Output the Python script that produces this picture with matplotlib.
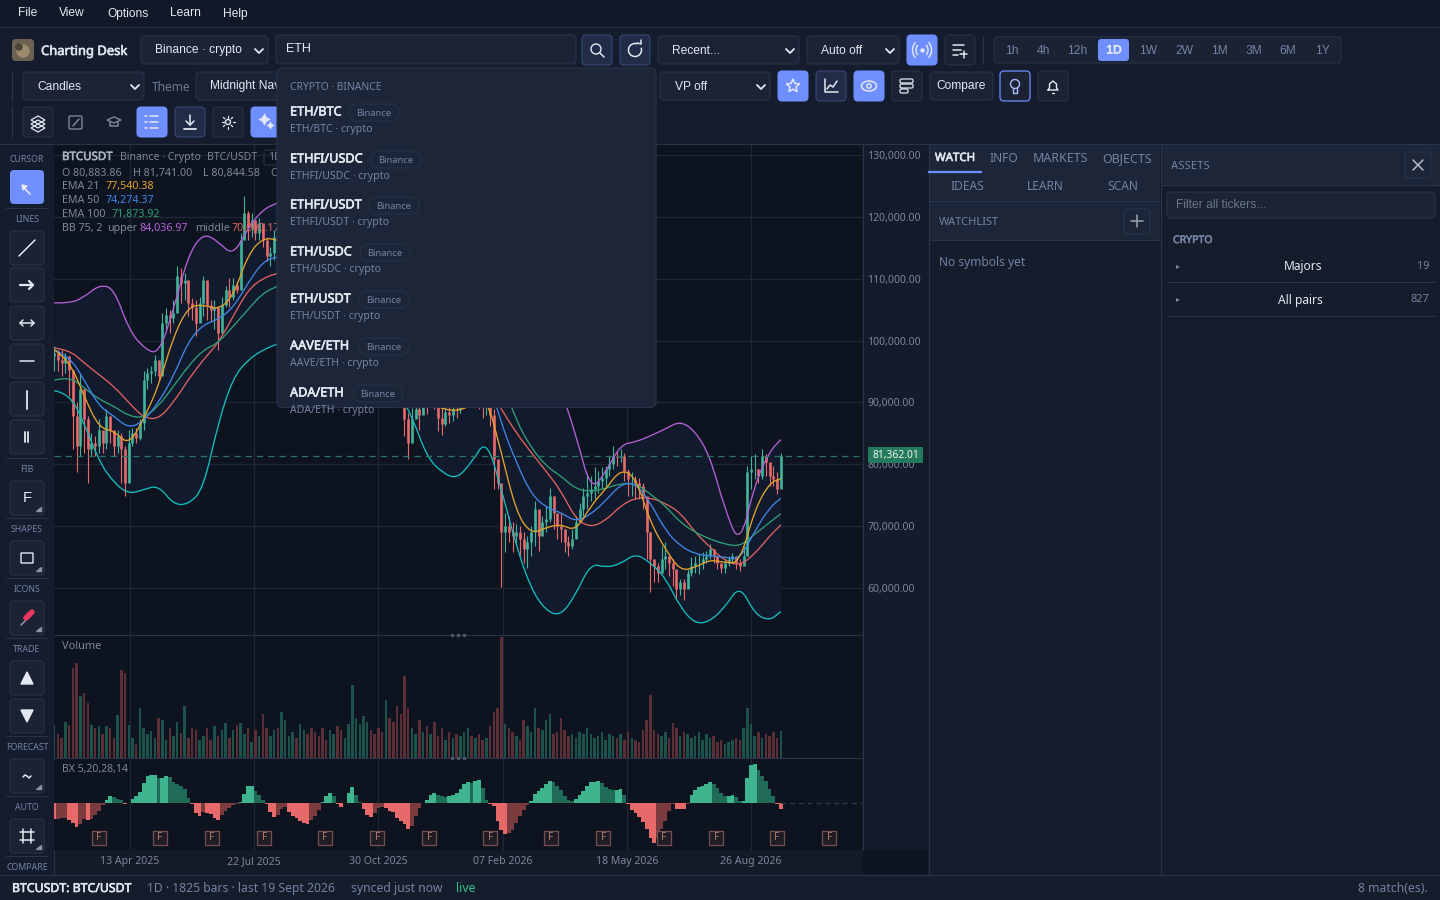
import matplotlib
matplotlib.use("Agg")
import matplotlib.dates as mdates
import matplotlib.patheffects as pe
import matplotlib.pyplot as plt
import numpy as np
import pandas as pd
from matplotlib.patches import Arc, Circle, FancyBboxPatch, PathPatch, Polygon
from matplotlib.path import Path

W, H = 1440, 900

# three-day bars, prices in thousands
bar_dates = pd.date_range("2025-02-11", periods=196, freq="3D")
close_k = [
    98, 96.9, 96.4, 97.5, 95.3, 87.8, 83, 92.1, 87.3, 82.4, 83.5, 83, 85.6, 83.5, 87.8, 85.6, 83, 84.6, 82.4, 77,
    83.5, 85.1, 84.3, 86.7, 93.7, 94.8, 95.1, 96.9, 94.2, 102.8, 104.2, 103.7, 104.5, 110.4, 109.3, 109.8, 106.1, 105.5, 102.8, 106.1,
    109.8, 105.8, 105, 105.5, 101.2, 105.8, 108.2, 107.1, 109, 108.2, 116.3, 120.6, 118.4, 119.5, 117.4, 119, 116.3, 113.6, 114.1, 116.8,
    111.5, 113, 116, 118, 119, 117, 118.5, 120, 118, 116, 114, 113, 111, 109.5, 110.5, 112, 110, 108.5, 110, 113,
    115, 117, 121, 123, 124, 120, 112, 110, 108, 110, 107, 104, 102, 95,
    87.3, 83.5, 87.3, 89, 88, 91, 90, 92, 91, 87.5, 86.5, 88.5, 88, 89, 88.8, 90.5, 92, 93, 92, 94, 91, 89.5, 92, 88, 80.8, 77, 69,
    70, 69, 68.4, 69, 67.9, 66.3, 67.4, 69, 72.7, 68.4, 70.6, 71.1, 74.9, 72.2, 70, 69.5, 67.4, 66.8, 67.9, 70.6,
    72.7, 74.9, 75.4, 76, 76.5, 77.3, 77.8, 79.2, 80, 81.3, 81.1, 81.3, 78.9, 77.6,
    77.6, 77, 76.5, 74.9, 69, 64.7, 63.6, 62.5, 64.7, 65.2, 64.1, 63, 59.8, 60.9, 59.8, 62.5, 63.6, 64.1, 64.1, 64.7,
    65.2, 66.3, 65.2, 64.1, 63.3, 64.1, 64.7, 65.2, 64.1, 63.6, 65.2, 78.7, 79.2, 79.2, 78.1, 81.3, 80.3, 78.1, 77.6, 76, 81.362,
]
high_k = [
    99.1, 98.5, 98.5, 98, 97.5, 93.2, 90, 94.8, 92.1, 87.8, 85.1, 84.6, 87.3, 85.1, 88.9, 87.8, 85.6, 85.6, 85.1, 83,
    85.6, 85.9, 85.9, 87.3, 95.1, 95.6, 95.9, 97.7, 96.9, 104.5, 105.3, 105, 106.6, 112, 111.7, 110.9, 109.3, 106.9, 106.6, 107.1,
    110.5, 106.6, 106.6, 106.6, 105, 107.1, 108.8, 110.1, 110.1, 109.6, 117.4, 123.3, 120.9, 120.6, 119.5, 119.8, 118.4, 116.8, 115.2, 117.9,
    113, 115, 118, 120, 121, 119, 120, 122, 120, 118, 116, 115, 113, 111, 112, 114, 112, 110, 112, 115,
    117, 119, 123, 125, 126, 124, 116, 112, 110, 112, 110, 108, 104, 102,
    94, 88.3, 89.1, 91, 91, 93, 92, 94, 93, 91, 90, 91, 90, 91, 91, 92, 94, 95, 94, 96, 95, 92, 94, 92, 88.9, 79.5, 76.5,
    72.2, 71.7, 70.6, 70.3, 70, 69, 68.4, 70, 74.1, 70, 71.7, 73.3, 76.2, 74.9, 71.1, 72.2, 69.5, 68.4, 69.5, 71.7,
    73.8, 76.2, 78.4, 78.1, 79.5, 78.9, 79.5, 79.7, 81.3, 83, 82.1, 82.5, 81.9, 79.2,
    78.7, 78.1, 77.8, 77, 74.4, 69, 64.7, 64.1, 66.8, 67.4, 65, 64.7, 62.5, 61.4, 61.4, 63, 65, 65.2, 65.5, 65.8,
    66, 67.1, 66.3, 64.7, 64.1, 64.7, 65.2, 65.6, 64.7, 64.7, 66.8, 79.7, 81.3, 81.6, 79.2, 82.4, 81.6, 80, 79.7, 78.7, 81.9,
]
low_k = [
    95.1, 95.1, 94.2, 94.8, 91, 82.4, 78.7, 81.3, 81.9, 77, 81.3, 81.3, 81.9, 81.9, 82.4, 83.5, 81.3, 81.9, 77, 74.9,
    77.6, 83, 83.5, 84, 85.6, 92.1, 93.2, 94.2, 93.4, 96.9, 101.8, 101.2, 102.8, 106.1, 106.1, 106.6, 103.9, 103.4, 100.7, 103.4,
    103.9, 103.4, 103.1, 101.8, 98.5, 104.5, 105.5, 105.5, 106.6, 107.7, 108.8, 116.3, 116.3, 116.8, 116.3, 116.3, 115.2, 112.8, 112, 113.1,
    109, 111, 114, 116, 117, 115, 117, 118, 116, 114, 112, 111, 109, 108, 108, 110, 108, 106, 108, 111,
    113, 115, 119, 121, 122, 118, 108, 107, 105, 107, 104, 100, 95, 91,
    84.6, 80.8, 85.1, 87.5, 85.6, 89, 88.1, 90, 89, 85.4, 84.7, 86.2, 86.7, 87, 87.5, 88.3, 90, 91, 90, 91.5, 88.9, 87.5, 88, 86.2, 76, 76, 60.2,
    65.8, 67.4, 65.8, 66.8, 65.2, 64.1, 63.3, 65.2, 66.8, 66, 69, 69, 70.6, 69.5, 67.9, 67.4, 65.8, 65.2, 66.3, 68.4,
    70.6, 71.7, 72.7, 74.1, 74.4, 75.4, 76, 76.5, 78.1, 79.2, 79.7, 80.3, 77.3, 74.9,
    74.9, 74.4, 74.4, 72.7, 64.7, 59.4, 60.9, 60.9, 62.5, 63, 62, 60.4, 58.2, 58.8, 58.1, 60.4, 62, 62.5, 62.3, 63,
    64.1, 64.7, 64.1, 63, 62.5, 62.5, 63.6, 64.1, 63, 62.8, 64.1, 65.2, 76, 77.6, 77, 77.6, 78.1, 76.5, 76.5, 75.2, 76.2,
]
volume = [
    33, 24, 20, 36, 33, 90, 95, 62, 65, 55,
    33, 30, 32, 24, 32, 30, 20, 43, 88, 85,
    33, 20, 14, 50, 30, 24, 27, 20, 40, 38,
    18, 30, 22, 36, 25, 52, 20, 30, 28, 18,
    22, 30, 18, 32, 22, 28, 35, 20, 28, 33,
    35, 24, 30, 16, 28, 22, 44, 30, 22, 28,
    30, 46, 38, 22, 26, 20, 34, 28, 24, 30,
    26, 22, 30, 18, 28, 24, 32, 28, 20, 34,
    73, 40, 34, 42, 36, 28, 24, 30, 26, 58,
    40, 36, 52, 44, 82, 50, 30, 24, 38, 26,
    32, 24, 36, 22, 30, 18, 26, 20, 24, 22,
    26, 30, 22, 20, 24, 18, 20, 32, 46, 50,
    121, 34, 30, 26, 22, 18, 38, 32, 26, 50,
    30, 28, 38, 44, 24, 26, 40, 28, 22, 24,
    20, 26, 24, 30, 24, 20, 22, 26, 18, 24,
    22, 20, 24, 18, 26, 20, 18, 16, 28, 38,
    63, 28, 24, 22, 26, 20, 35, 30, 22, 26,
    24, 20, 22, 26, 18, 24, 20, 22, 16, 18,
    14, 16, 18, 20, 18, 30, 50, 34, 22, 26,
    20, 24, 22, 26, 20, 27,
]
bx_values = [
    -16, -15.5, -15, -14.5, -17, -20, -24, -21, -16, -17, -16, -12, -8, -2, 3, 7, 6, 4, 3, -1,
    0.5, 4, 7, 11, 20, 27, 28, 28, 25, 25, 27, 26, 21, 19, 17, 14, 5, -1, -10, -13,
    -9, -10, -11, -15, -17, -12, -8, -5, -2, -0.5, 1.5, 9, 17, 17, 12, 8, 3, -1, -9, -14,
    -12, -6, -4, -9, -13, -15, -18, -20, -21, -17, -13, -7, 1, 7, 10, 7, -1, -4, 0, 10,
    16, 8, 1, -6, -12, -14, -10, -5, -4, -5, -8, -9, -15, -18, -21, -26, -23, -13, -5, 0,
    3, 8, 10, 8, 7, 6, 7, 8, 10, 14, 19, 21, 20, 22, 23, 15, 3, -0.5, -3, -18,
    -27, -31, -30, -27, -20, -13, -7, -2, 2, 9, 12, 15, 19, 22, 21, 17, 13, 7, 3, 2,
    4, 8, 12, 17, 21, 21.5, 22, 20, 16, 14, 13, 13.5, 14, 8, -0.5, -7, -10, -14, -19, -26,
    -35, -40, -35, -26, -18, -8, -1, -6, -6, -6, -0.5, 8, 13, 16, 17, 19, 21, 19, 15, 10,
    7, 7.5, 8, 6, 2, 2, 25, 38, 39, 33, 27, 22, 14, 7, -1, -6,
]

# indicators sampled every fourth bar plus the last one
ema21_k = [
    98.5, 96.9, 91, 85.9, 85.4, 83.1, 87.3, 92.6, 100.7, 105.5, 105.8, 105, 107.1, 113.9, 116.6, 116.3,
    115, 115, 116, 117, 116, 114, 108, 99, 92, 90, 89, 88.6, 89.5, 91,
    81.9, 72.2, 68.7, 69.8, 70.3, 69.2, 73.3, 76, 79.2, 78, 70.6, 66.3, 62.8, 63.3, 64.6, 64.1, 64.1, 72.7, 77, 77.7,
]
ema50_k = [
    98.5, 97.5, 93.7, 89.4, 87.8, 85.8, 87, 90, 94.2, 99.9, 102.6, 103.4, 105.3, 109.3, 112.8, 113.6,
    114, 114.5, 115, 115, 114.5, 114, 113, 111, 108, 106, 103, 100.5, 98, 95,
    86.5, 80.3, 75.2, 73, 72.2, 70.7, 71.9, 74.1, 76.8, 77, 73.8, 69.3, 66.8, 65.5, 65.2, 65, 64.6, 69.2, 73, 74.5,
]
ema100_k = [
    93.6, 94.2, 92.4, 90.5, 89.4, 87.8, 87.5, 89.4, 92.6, 95.9, 98.5, 99.6, 102.3, 105, 107.7, 108.8,
    110, 111, 111.5, 112, 112, 112, 112, 111.5, 110.5, 109, 108, 106.5, 105, 101,
    94, 87, 82.7, 79.7, 78.1, 76, 75.6, 76.1, 76.9, 76.9, 75.2, 73.3, 70.6, 69, 67.9, 67.1, 66.7, 68.7, 70.6, 72,
]
bb_mid_k = [
    98.8, 98.5, 96.4, 94.5, 92.6, 90, 87.5, 87.3, 90, 93.7, 96.9, 99.6, 103.9, 108.2, 110.1, 110.9,
    111.5, 112.5, 113, 113.5, 113.5, 113, 112.5, 112, 110.5, 108, 105, 101, 97, 93,
    88.9, 85.1, 81.9, 78.9, 75.7, 71.1, 69.8, 70.9, 73.3, 74.6, 74.6, 73.7, 72.2, 69, 66.6, 64.4, 63.6, 65.5, 68.4, 70.2,
]
bb_upper_k = [
    106.1, 106, 107, 109, 108.5, 101.8, 98.8, 97.7, 105, 113.9, 117.4, 116, 113.7, 118.2, 121.2, 122.3,
    123, 124, 125, 125, 125, 126, 127, 127, 126, 125, 125, 125, 124, 122,
    118, 112, 105, 98, 92, 84.8, 75.7, 78.7, 83.2, 83.6, 84.6, 85.7, 87, 85.4, 81.3, 72.7, 66.8, 76.8, 82.1, 84,
]
bb_lower_k = [
    91.9, 91.5, 86.7, 80.5, 77, 75.2, 75.9, 76.6, 73.5, 73.5, 76, 86.7, 94, 96.9, 98.5, 99.5,
    100, 101, 103, 104, 103, 100, 96, 92, 87.8,
    81.2, 78.7, 77.6, 80.3, 84.1, 76, 66.8, 59.8, 56.3, 55.5, 59, 64, 63.3, 63.9, 65.6,
    64.1, 61.7, 56.9, 54.2, 54.6, 56.9, 60.5, 55.8, 54.7, 56.2,
]

price_ticks = [130000, 120000, 110000, 100000, 90000, 80000, 70000, 60000]
date_ticks = ["2025-04-13", "2025-07-22", "2025-10-30", "2026-02-07", "2026-05-18", "2026-08-26"]
future_dates = [
    "2025-03-19", "2025-05-07", "2025-06-18", "2025-07-30", "2025-09-17", "2025-10-29", "2025-12-10",
    "2026-01-28", "2026-03-18", "2026-04-29", "2026-06-17", "2026-07-29", "2026-09-16", "2026-10-28",
]
last_price = 81362.01

menu_items = [("File", 18), ("View", 59), ("Options", 107), ("Learn", 170), ("Help", 223)]
timeframes = [("1h", 1012), ("4h", 1043), ("12h", 1077), ("1D", 1114), ("1W", 1148), ("2W", 1184),
              ("1M", 1219), ("3M", 1254), ("6M", 1288), ("1Y", 1322)]
search_results = [
    ("ETH/BTC", 112, 374), ("ETHFI/USDC", 159, 396), ("ETHFI/USDT", 205, 394), ("ETH/USDC", 252, 385),
    ("ETH/USDT", 299, 384), ("AAVE/ETH", 346, 384), ("ADA/ETH", 393, 378),
]
tool_sections = [("CURSOR", 159), ("LINES", 219), ("FIB", 469), ("SHAPES", 529), ("ICONS", 589),
                 ("TRADE", 649), ("FORECAST", 747), ("AUTO", 807), ("COMPARE", 867)]

BG_MENU = "#111827"
BG_BAR = "#151c2d"
BG_CHART = "#0e141f"
BG_HEAD = "#1c2638"
BG_BAND = "#121b2e"
EDGE = "#29344b"
ACCENT = "#6f8fff"
GRID = "#1e2638"
MUTED = "#7c8798"
SLATE = "#7283a3"
LIGHT = "#e4e8f0"
UP = "#41b49a"
DOWN = "#e86a6a"
SANS = "Noto Sans"
UI = "Liberation Sans"
PX_PER_K = 6.186

plt.rcParams["font.family"] = [SANS, "DejaVu Sans"]
fig = plt.figure(figsize=(14.4, 9), dpi=100, facecolor=BG_BAR)


def px_axes(x0, y0, x1, y1, zorder=1):
    ax = fig.add_axes([x0 / W, 1 - y1 / H, (x1 - x0) / W, (y1 - y0) / H], zorder=zorder)
    return ax


under = px_axes(0, 0, W, H, zorder=0)
top = px_axes(0, 0, W, H, zorder=10)
for a in (under, top):
    a.set_xlim(0, W)
    a.set_ylim(H, 0)
    a.axis("off")
top.patch.set_alpha(0)


def box(x0, y0, x1, y1, face, edge="none", r=4, ax=top, z=1, lw=0.75):
    patch = FancyBboxPatch((x0, y0), x1 - x0, y1 - y0, boxstyle=f"round,pad=0,rounding_size={r}",
                           facecolor=face, edgecolor=edge, linewidth=lw, zorder=z)
    ax.add_patch(patch)
    return patch


def txt(x, y, s, px=12, color=LIGHT, family=SANS, bold=False, ha="left", z=3):
    t = top.text(x, y + 1.5, s, fontsize=px * 0.72, color=color, family=[family, "DejaVu Sans"],
                 ha=ha, va="center", zorder=z)
    if bold:
        # the installed Noto Sans has one weight, so thicken the outline
        t.set_path_effects([pe.withStroke(linewidth=0.45, foreground=color)])
    return t


def stroke(xs, ys, color=LIGHT, lw=1.1, z=3):
    top.plot(xs, ys, color=color, linewidth=lw, solid_capstyle="round", zorder=z)


def smooth_line(ax, xs, ys, color, lw=0.95, z=3):
    # quadratic path with the read values as control points
    pts = np.c_[xs, ys]
    verts = [pts[0]]
    codes = [Path.MOVETO]
    for i in range(1, len(pts) - 1):
        verts += [pts[i], (pts[i] + pts[i + 1]) / 2]
        codes += [Path.CURVE3, Path.CURVE3]
    verts.append(pts[-1])
    codes.append(Path.LINETO)
    ax.add_patch(PathPatch(Path(verts, codes), fill=False, edgecolor=color, linewidth=lw, zorder=z))


def chevron(x, y):
    stroke([x - 4, x, x + 4], [y - 2, y + 2, y - 2], color=LIGHT, lw=1.3)


def select(x0, x1, y0, y1, label, text_x=None):
    box(x0, y0, x1, y1, "#1b2436", EDGE)
    txt(text_x or x0 + 14, (y0 + y1) / 2 - 1, label, px=12, family=UI)
    chevron(x1 - 9, (y0 + y1) / 2 + 1)


def button(x0, y0, kind="dark", size=30):
    styles = {"accent": (ACCENT, ACCENT), "outline": ("#212c49", "#3a4a78"), "dark": ("#1a2233", EDGE)}
    face, edge = styles[kind]
    box(x0, y0, x0 + size, y0 + size, face, edge)


# panel backgrounds
for x0, y0, x1, y1, face in [
    (0, 0, W, 27, BG_MENU), (0, 27, W, 144, BG_BAR), (0, 144, 54, 875, BG_BAR), (863, 144, 928, 850, "#141b2a"),
    (54, 850, 862, 875, "#131a28"), (862, 850, 928, 875, "#0f1520"), (929, 145, 1160, 875, "#151c2c"),
    (929, 145, 1160, 240, BG_HEAD), (1161, 145, W, 875, "#151c2c"), (1161, 145, W, 185, BG_HEAD), (0, 875, W, H, "#151c2b"),
]:
    under.fill([x0, x1, x1, x0], [y0, y0, y1, y1], color=face, linewidth=0, zorder=1)
for x0, y0, x1, y1 in [
    (0, 27, W, 27), (0, 144, W, 144), (0, 874.5, W, 874.5), (53.5, 144, 53.5, 875), (862.5, 144, 862.5, 850),
    (928.5, 144, 928.5, 875), (1160.5, 144, 1160.5, 875), (929, 201, 1160, 201), (929, 240, 1160, 240), (1161, 185, W, 185),
]:
    under.plot([x0, x1], [y0, y1], color=EDGE, linewidth=0.8, zorder=2)

# chart panes
left_num = mdates.date2num(pd.Timestamp("2025-04-13")) - 76 / 1.242
x_lim = (left_num, left_num + 808 / 1.242)
ax_price = px_axes(54, 145, 862, 635)
ax_vol = px_axes(54, 636, 862, 758)
ax_bx = px_axes(54, 759, 862, 850)
tick_x = mdates.date2num(pd.to_datetime(date_ticks))
bar_x = mdates.date2num(bar_dates)
for a in (ax_price, ax_vol, ax_bx):
    a.set_facecolor(BG_CHART)
    a.set_xlim(x_lim)
    a.set_xticks(tick_x)
    a.grid(True, axis="x", color=GRID, linewidth=0.9)
    a.set_axisbelow(True)
    a.tick_params(length=0)
    a.set_xticklabels([])
    a.set_yticks([])
    for spine in a.spines.values():
        spine.set_visible(False)

closes = np.array(close_k) * 1000
highs = np.array(high_k) * 1000
lows = np.array(low_k) * 1000
opens = np.r_[97500, closes[:-1]]
colors = [UP if c >= o else DOWN for o, c in zip(opens, closes)]
ind_idx = np.r_[np.arange(0, 196, 4), 195]
ind_x = bar_x[ind_idx]

ax_price.set_ylim(130000 - 480 / PX_PER_K * 1000, 130000 + 10 / PX_PER_K * 1000)
ax_price.set_yticks(price_ticks)
ax_price.yaxis.tick_right()
ax_price.set_yticklabels([f"{p:,.2f}" for p in price_ticks], fontsize=7.5, color=MUTED, ha="left")
ax_price.tick_params(axis="y", pad=3.8)
ax_price.grid(True, axis="y", color=GRID, linewidth=0.9)
ax_price.fill_between(ind_x, np.array(bb_upper_k) * 1000, np.array(bb_lower_k) * 1000, color=BG_BAND, linewidth=0, zorder=1)
ax_price.vlines(bar_x, lows, highs, colors=colors, linewidth=0.8, zorder=2)
ax_price.vlines(bar_x, opens, closes, colors=colors, linewidth=1.9, zorder=2.1)
for series, color in [(bb_upper_k, "#b561d8"), (bb_lower_k, "#12bdbd"), (bb_mid_k, "#e0625f"), (ema100_k, "#2f9e75"),
                      (ema50_k, "#3f86e8"), (ema21_k, "#e5a32a")]:
    smooth_line(ax_price, ind_x, np.array(series) * 1000, color)
ax_price.axhline(last_price, color="#2f7364", linewidth=0.9, dashes=(5, 4), zorder=3)

vol_colors = ["#1b534a" if c >= o else "#5c2f36" for o, c in zip(opens, closes)]
ax_vol.bar(bar_x, volume, width=2.0, color=vol_colors, linewidth=0)
ax_vol.set_ylim(0, 122)

bx = np.array(bx_values)
bx_prev = np.r_[bx[0], bx[:-1]]
bx_colors = []
for cur, prev in zip(bx, bx_prev):
    if cur >= 0:
        bx_colors.append("#3fb58f" if cur >= prev else "#1f6b58")
    else:
        bx_colors.append("#e8696a" if cur <= prev else "#7c3b3f")
ax_bx.bar(bar_x, bx, width=3.0, color=bx_colors, linewidth=0)
ax_bx.plot([bar_x[-1], x_lim[1]], [0, 0], color="#2e384e", linewidth=0.9, dashes=(4, 3))
ax_bx.set_ylim(-46.7, 44.3)
future_x = mdates.date2num(pd.to_datetime(future_dates))
ax_bx.scatter(future_x, [-34.7] * len(future_x), marker="s", s=105, facecolor="#1f1c25", edgecolor="#74504f", linewidth=0.9, zorder=4)
for d in future_x:
    ax_bx.text(d, -34.7, "F", fontsize=7.2, color="#b07a70", ha="center", va="center", zorder=5)
ax_bx.set_xticklabels(pd.to_datetime(date_ticks).strftime("%d %b %Y"), fontsize=7.55, color=MUTED)
ax_bx.tick_params(axis="x", pad=4.5)

# pane dividers and labels
for y in (635, 758):
    under.plot([54, 862], [y, y], color="#2a3348", linewidth=0.9, zorder=2)
    top.plot([452, 458, 464], [y, y, y], "s", color="#4d5668", markersize=1.4, zorder=2)
txt(62, 645, "Volume", px=11, color=MUTED)
txt(62, 768, "BX 5,20,28,14", px=10.5, color=MUTED)

# price tag and chart legend
box(868, 447, 923, 463, "#247a5d", r=1)
txt(895.5, 454, f"{last_price:,.2f}", px=10.3, color="#f0f4f4", ha="center")
txt(62, 156, "BTCUSDT", px=11.5, color="#a9b2c2", bold=True)
txt(120, 156, "Binance · Crypto", px=10.5, color=MUTED)
txt(207, 156, "BTC/USDT", px=10.5, color=MUTED)
box(264, 150, 285, 165, "none", "#2b3346", r=1)
txt(268, 156, "1D", px=10.5, color=MUTED)
txt(62, 172, "O 80,883.86", px=10.7, color=MUTED)
txt(133, 172, "H 81,741.00", px=10.7, color=MUTED)
txt(203, 172, "L 80,844.58", px=10.7, color=MUTED)
txt(270, 172, "C", px=10.7, color=MUTED)
txt(62, 185, "EMA 21", px=10.7, color=MUTED)
txt(105, 185, "77,540.38", px=10.7, color="#e5a32a")
txt(62, 199, "EMA 50", px=10.7, color=MUTED)
txt(105, 199, "74,274.37", px=10.7, color="#3f86e8")
txt(62, 213, "EMA 100", px=10.7, color=MUTED)
txt(111, 213, "71,873.92", px=10.7, color="#2f9e75")
txt(62, 227, "BB 75, 2", px=10.7, color=MUTED)
txt(107, 227, "upper", px=10.7, color=MUTED)
txt(139, 227, "84,036.97", px=10.7, color="#b561d8")
txt(195, 227, "middle", px=10.7, color=MUTED)
txt(231, 227, "70,000.17", px=10.7, color="#e0625f")

# menu bar and first toolbar row
for label, x in menu_items:
    txt(x, 12, label, px=12, family=UI)
box(12, 39, 34, 61, "#6d6252", r=4)
top.add_patch(Circle((23, 51), 6, color="#9c8a6c", zorder=2))
top.add_patch(Circle((19, 47), 3, color="#4a4438", zorder=2))
txt(41, 50, "Charting Desk", px=13, bold=True, color="#dfe5ee")
select(141, 268, 36, 64, "Binance · crypto")
box(276, 35, 576, 64, "#1b2436", EDGE)
txt(286, 48, "ETH", px=12.5, family=UI)
button(582, 35, "outline")
top.add_patch(Circle((596, 49), 5, fill=False, edgecolor=LIGHT, linewidth=1, zorder=3))
stroke([600, 604], [53, 57])
button(620, 35, "outline")
top.add_patch(Arc((635, 50), 13, 13, theta1=-20, theta2=290, edgecolor=LIGHT, linewidth=1.1, zorder=3))
stroke([637, 641, 641], [43, 44, 40])
select(658, 799, 36, 64, "Recent...")
select(807, 899, 36, 64, "Auto off")
button(907, 35, "accent")
top.plot([922], [50], "o", color=LIGHT, markersize=2.2, zorder=3)
for d in (12, 19):
    top.add_patch(Arc((922, 50), d, d + 2, theta1=-50, theta2=50, edgecolor=LIGHT, linewidth=1, zorder=3))
    top.add_patch(Arc((922, 50), d, d + 2, theta1=130, theta2=230, edgecolor=LIGHT, linewidth=1, zorder=3))
button(945, 35, "dark")
for y, x1 in [(45, 964), (50, 961), (55, 958)]:
    stroke([953, x1], [y, y])
stroke([960, 967], [54, 54])
stroke([963.5, 963.5], [50.5, 57.5])
under.plot([983, 983], [36, 64], color=EDGE, linewidth=0.8, zorder=2)
box(994, 37, 1341, 63, "#1a2233", EDGE)
box(1098, 39, 1129, 61, ACCENT, r=3, z=2)
for label, x in timeframes:
    active = label == "1D"
    txt(x, 49, label, px=12, family=UI, ha="center", color=LIGHT if active else SLATE, bold=active)

# second row
under.plot([12, 12], [71, 101], color=EDGE, linewidth=0.8, zorder=2)
select(23, 144, 72, 100, "Candles")
txt(152, 86, "Theme", px=12, color="#6b7a93")
select(196, 340, 72, 100, "Midnight Navy")
select(660, 770, 72, 100, "VP off", text_x=675)
button(778, 71, "accent")
star_t = np.linspace(np.pi / 2, np.pi / 2 + 2 * np.pi, 11)
star_r = np.array([7, 3.2] * 5 + [7])
top.add_patch(Polygon(np.c_[793 + star_r * np.cos(star_t), 86 - star_r * np.sin(star_t)], closed=True, fill=False,
                      edgecolor=LIGHT, linewidth=1.1, zorder=3))
button(816, 71, "outline")
stroke([825, 825, 838], [79, 92, 92])
stroke([827, 830, 833, 837], [89, 85, 87, 81])
button(854, 71, "accent")
top.add_patch(Arc((869, 86), 15, 10, edgecolor=LIGHT, linewidth=1.1, zorder=3))
top.add_patch(Circle((869, 86), 2.2, fill=False, edgecolor=LIGHT, linewidth=1, zorder=3))
button(892, 71, "dark")
for y, x1 in [(81, 913), (86, 913), (91, 908)]:
    box(900, y - 2, x1, y + 2, "none", LIGHT, r=1.5, z=3, lw=0.9)
box(930, 72, 993, 100, "#1b2436", EDGE)
txt(961.5, 85, "Compare", px=12, family=UI, ha="center")
box(1000, 71, 1030, 101, "#1a2233", ACCENT, lw=0.9)
top.add_patch(Circle((1015, 84), 4.5, fill=False, edgecolor="#aebcff", linewidth=1, zorder=3))
stroke([1013, 1013, 1017, 1017], [88, 93, 93, 88], color="#aebcff", lw=1)
button(1038, 71, "dark")
stroke([1048, 1049.5, 1049.5, 1053, 1056.5, 1056.5, 1058, 1048], [90, 88, 84, 81, 84, 88, 90, 90], lw=1)
stroke([1052, 1054], [93, 93], lw=1)

# third row
under.plot([12, 12], [107, 137], color=EDGE, linewidth=0.8, zorder=2)
button(23, 107, "dark")
for dy in (0, 4, 8):
    top.add_patch(Polygon([[38, 116 + dy], [45, 120 + dy], [38, 124 + dy], [31, 120 + dy]], closed=True, fill=False,
                          edgecolor=LIGHT, linewidth=0.9, zorder=3))
box(69, 116, 82, 129, "none", MUTED, r=1.5, z=3, lw=1)
stroke([73, 79], [126, 119], color=MUTED)
top.add_patch(Polygon([[114, 117], [121, 120], [114, 123], [107, 120]], closed=True, fill=False, edgecolor=MUTED, linewidth=1, zorder=3))
stroke([110, 110, 118, 118], [122, 126, 126, 122], color=MUTED)
button(137, 107, "accent")
for y in (116, 122, 128):
    stroke([145, 147], [y, y])
    stroke([150, 158], [y, y])
button(175, 107, "outline")
stroke([190, 190], [115, 125])
stroke([186, 190, 194], [121, 125, 121])
stroke([184, 196], [129, 129], lw=1.3)
button(213, 107, "dark")
top.add_patch(Circle((228, 122), 2.5, fill=False, edgecolor=LIGHT, linewidth=1, zorder=3))
for a in np.arange(0, 2 * np.pi, np.pi / 4):
    stroke([228 + 4.5 * np.cos(a), 228 + 6.5 * np.cos(a)], [122 + 4.5 * np.sin(a), 122 + 6.5 * np.sin(a)], lw=0.9)
button(251, 107, "accent")
top.plot([264], [119], marker=(4, 1, 0), color=LIGHT, markersize=9, markeredgewidth=0, zorder=3)
top.plot([270], [125], marker=(4, 1, 0), color=LIGHT, markersize=6, markeredgewidth=0, zorder=3)

# search dropdown on top of the chart
drop = box(277, 68, 656, 407.5, BG_HEAD, EDGE, r=6, z=20)
txt(290, 86, "CRYPTO · BINANCE", px=10.3, color=SLATE, z=21)
for name, y, pill_x in search_results:
    box(pill_x - 25, y - 8, pill_x + 25, y + 9, BG_HEAD, "#263248", r=8.5, z=21)
    txt(pill_x, y, "Binance", px=9.5, color=SLATE, ha="center", z=22)
    txt(290, y - 1.5, name, px=12.7, bold=True, color=LIGHT, z=22)
    sub = txt(290, y + 16, f"{name} · crypto", px=10.5, color=SLATE, z=22)
    sub.set_clip_on(True)
    sub.set_clip_path(drop)

# left drawing tools
for label, y in tool_sections:
    txt(27, y - 1, label, px=8.8, color=SLATE, ha="center")
for y in (208, 458, 518, 578, 638, 736, 796, 856):
    top.plot([6, 47], [y, y], color=EDGE, linewidth=0.7, zorder=1)
tool_tops = [231, 268, 306, 344, 382, 420, 481, 541, 601, 661, 699, 759, 819]
box(10, 170, 44, 204, ACCENT, r=4)
stroke([23, 30], [187, 194], lw=1.2)
top.add_patch(Polygon([[22, 185], [27, 186], [23, 190]], closed=True, color=LIGHT, zorder=3))
for y in tool_tops:
    box(10, y, 44, y + 34, "#1a2233", EDGE, r=4)
stroke([19, 35], [256, 240])
stroke([20, 33], [285, 285], lw=1.6)
stroke([29, 33, 29], [281, 285, 289], lw=1.6)
stroke([20, 34], [323, 323])
stroke([23, 20, 23], [320, 323, 326])
stroke([31, 34, 31], [320, 323, 326])
stroke([20, 34], [361, 361])
stroke([26.5, 26.5], [391, 409], lw=1.3)
stroke([25, 25], [432, 442], lw=1.3)
stroke([28, 28], [432, 442], lw=1.3)
txt(27, 496, "F", px=15, family=UI, ha="center")
box(21, 553, 33, 563, "none", LIGHT, r=0.5, z=3, lw=1)
stroke([21, 27], [625, 619], color="#9aa3b2", lw=1)
stroke([26, 32], [618, 612], color="#e8365d", lw=4)
top.add_patch(Polygon([[27, 672], [33, 684], [21, 684]], closed=True, color=LIGHT, zorder=3))
top.add_patch(Polygon([[21, 710], [33, 710], [27, 722]], closed=True, color=LIGHT, zorder=3))
stroke([23, 25, 27, 29, 31], [777, 775, 776, 778, 776])
stroke([23, 23], [829, 843])
stroke([31, 31], [829, 843])
stroke([20, 34], [832, 832])
stroke([20, 34], [840, 840])
for y in (481, 541, 601, 759, 819):
    top.add_patch(Polygon([[41, y + 26], [41, y + 30], [36, y + 30]], closed=True, color="#8a93a5", zorder=3))

# watch panel
txt(955, 157, "WATCH", px=11.5, bold=True, ha="center")
txt(1004, 157, "INFO", px=12, color=SLATE, ha="center")
txt(1061, 157, "MARKETS", px=12.4, color=SLATE, ha="center")
txt(1127, 157, "OBJECTS", px=12.4, color=SLATE, ha="center")
under.plot([929, 981], [172, 172], color=ACCENT, linewidth=1.6, zorder=3)
txt(967, 185, "IDEAS", px=12, color=SLATE, ha="center")
txt(1045, 185, "LEARN", px=12, color=SLATE, ha="center")
txt(1123, 185, "SCAN", px=12, color=SLATE, ha="center")
txt(939, 221, "WATCHLIST", px=11, color=SLATE)
box(1124, 209, 1150, 234, "none", EDGE)
stroke([1131, 1143], [221, 221], color="#9aa5b8")
stroke([1137, 1137], [215, 227], color="#9aa5b8")
txt(939, 261, "No symbols yet", px=12, color=SLATE)

# assets panel
txt(1171, 165, "ASSETS", px=11.3, color=SLATE)
box(1405, 152, 1431, 178, "none", EDGE)
stroke([1413, 1423], [160, 170], color="#b5bdca")
stroke([1413, 1423], [170, 160], color="#b5bdca")
box(1167, 192, 1435, 218, "#1b2436", EDGE)
txt(1176, 204, "Filter all tickers...", px=12, color="#6b7688", family=UI)
txt(1173, 239, "CRYPTO", px=10.5, color=SLATE, bold=True)
txt(1178, 265, "▸", px=8, color=MUTED, ha="center")
txt(1303, 265, "Majors", px=12, ha="center")
txt(1429, 265, "19", px=11, color=SLATE, ha="right")
top.plot([1167, 1435], [281.5, 281.5], color=EDGE, linewidth=0.7, zorder=1)
txt(1178, 298, "▸", px=8, color=MUTED, ha="center")
txt(1300, 299, "All pairs", px=12, ha="center")
txt(1429, 298, "827", px=11, color=SLATE, ha="right")
top.plot([1167, 1435], [315.5, 315.5], color=EDGE, linewidth=0.7, zorder=1)

# status bar
txt(12, 887, "BTCUSDT: BTC/USDT", px=12.3, bold=True)
txt(147, 887, "1D · 1825 bars · last 19 Sept 2026", px=12.2, color=SLATE)
txt(351, 887, "synced just now", px=12.2, color=SLATE)
txt(456, 887, "live", px=12.2, color="#2fc48d")
txt(1428, 887, "8 match(es).", px=12.2, color=SLATE, ha="right")

fig.savefig("out.png", dpi=100, facecolor=fig.get_facecolor())
